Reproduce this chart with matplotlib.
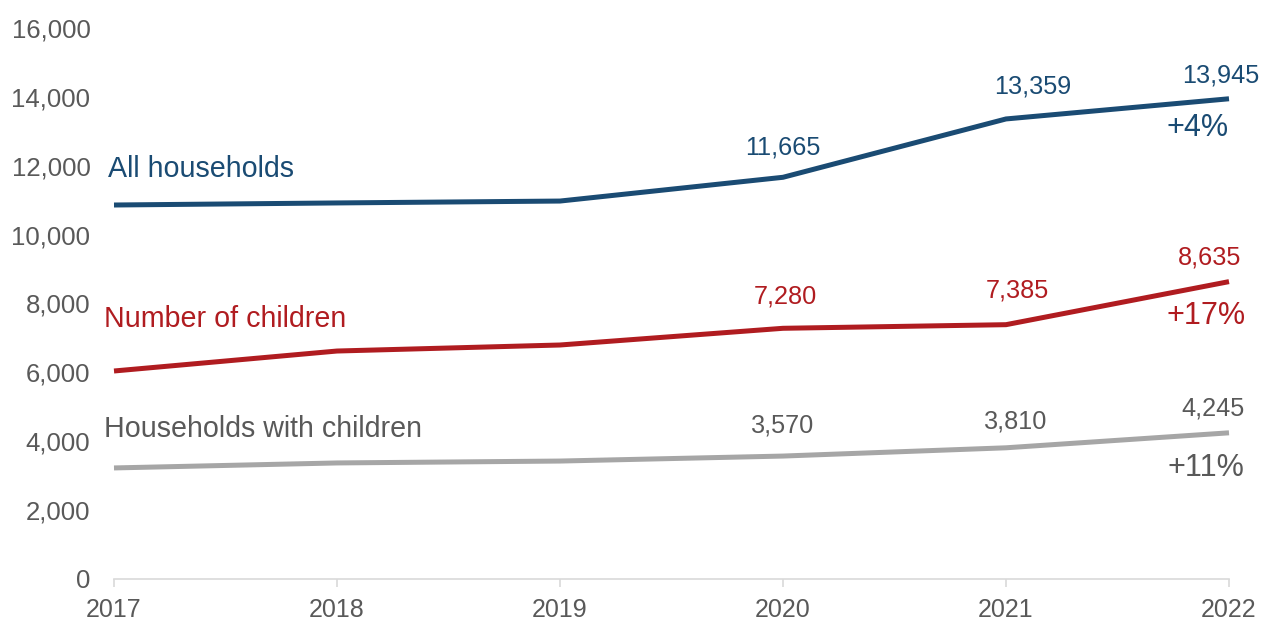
import matplotlib
matplotlib.use("Agg")
import matplotlib.pyplot as plt

plt.rcParams['font.family'] = ['Liberation Sans', 'DejaVu Sans']

years = [2017, 2018, 2019, 2020, 2021, 2022]
all_households = [10860, 10920, 10975, 11665, 13359, 13945]
number_of_children = [6040, 6620, 6795, 7280, 7385, 8635]
households_with_children = [3225, 3370, 3425, 3570, 3810, 4245]

series_names = ["All households", "Number of children", "Households with children"]
pct_change = ["+4%", "+17%", "+11%"]
y_ticks = [0, 2000, 4000, 6000, 8000, 10000, 12000, 14000, 16000]

BLUE = "#1A4B73"
RED = "#B01C20"
GREY_LINE = "#A6A6A6"
GREY_TEXT = "#595959"

fig = plt.figure(figsize=(12.62, 6.22), dpi=100)
ax = fig.add_axes([114 / 1262, 1 - 579 / 622, (1229 - 114) / 1262, (579 - 28) / 622])

series = [
    (all_households, BLUE, BLUE, (-6, 36),
     {3: (0, 30), 4: (27, 32), 5: (-8, 23)}, (-31, -29)),
    (number_of_children, RED, RED, (-10, 52),
     {3: (2, 32), 4: (11, 34), 5: (-19, 24)}, (-23, -34)),
    (households_with_children, GREY_LINE, GREY_TEXT, (-10, 39),
     {3: (0, 31), 4: (10, 26), 5: (-16, 24)}, (-23, -35)),
]

for (vals, lc, tc, name_off, lbl_offs, pct_off), name, pct in zip(series, series_names, pct_change):
    ax.plot(years, vals, color=lc, lw=3.6, solid_capstyle='butt', zorder=3, clip_on=False)
    ax.annotate(name, xy=(years[0], vals[0]), xytext=name_off, textcoords='offset pixels',
                ha='left', va='center', fontsize=20.6, color=tc)
    for i, off in lbl_offs.items():
        ax.annotate(f"{vals[i]:,}", xy=(years[i], vals[i]), xytext=off,
                    textcoords='offset pixels', ha='center', va='center',
                    fontsize=18.2, color=tc)
    ax.annotate(pct, xy=(years[-1], vals[-1]), xytext=pct_off, textcoords='offset pixels',
                ha='center', va='center', fontsize=22, color=tc)

ax.set_xlim(years[0], years[-1])
ax.set_ylim(0, 16000)
ax.set_xticks(years)
ax.set_xticklabels([str(y) for y in years])
ax.set_yticks(y_ticks)
ax.set_yticklabels([f"{v:,}" for v in y_ticks])

for s in ['top', 'right', 'left']:
    ax.spines[s].set_visible(False)
ax.spines['bottom'].set_color('#D9D9D9')
ax.spines['bottom'].set_linewidth(1.2)
ax.spines['bottom'].set_zorder(1)

ax.tick_params(axis='y', length=0, pad=17, labelsize=18.5, labelcolor=GREY_TEXT)
ax.tick_params(axis='x', direction='out', length=6, width=1.2, color='#D9D9D9',
               pad=8, labelsize=18, labelcolor=GREY_TEXT)

fig.savefig("out.png", dpi=100)
